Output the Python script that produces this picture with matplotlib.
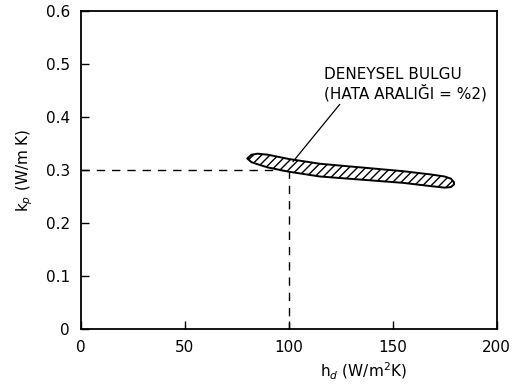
import matplotlib
matplotlib.use("Agg")
import matplotlib.pyplot as plt

# experimental band (hatched region)
band_h = [80, 82, 85, 90, 100, 115, 135, 155, 168, 175, 178, 179.5]
band_upper = [0.322, 0.329, 0.331, 0.329, 0.321, 0.312, 0.305, 0.298, 0.292, 0.288, 0.284, 0.277]
band_lower = [0.322, 0.315, 0.311, 0.305, 0.297, 0.288, 0.282, 0.276, 0.270, 0.267, 0.268, 0.273]

# reading lines
read_h = 100
read_k = 0.30

x_ticks = [0, 50, 100, 150, 200]
y_ticks = [0, 0.1, 0.2, 0.3, 0.4, 0.5, 0.6]
y_ticklabels = ["0", "0.1", "0.2", "0.3", "0.4", "0.5", "0.6"]

plt.rcParams.update({"font.family": "DejaVu Sans", "font.size": 11,
                     "hatch.linewidth": 1.0})

fig = plt.figure(figsize=(5.13, 3.92), dpi=100)
ax = fig.add_axes([0.158, 0.16, 0.81, 0.812])

ax.fill_between(band_h, band_lower, band_upper, facecolor="white",
                edgecolor="black", hatch="////", linewidth=1.4, zorder=3)

ax.plot([0, read_h], [read_k, read_k], color="black", linestyle=(0, (6, 5)), linewidth=1)
ax.plot([read_h, read_h], [read_k, 0], color="black", linestyle=(0, (6, 5)), linewidth=1)

ax.annotate("DENEYSEL BULGU\n(HATA ARALIĞI = %2)", xy=(102, 0.316), xytext=(117, 0.462),
            fontsize=11, ha="left", va="center", linespacing=1.15,
            arrowprops=dict(arrowstyle="-", color="black", linewidth=0.9,
                            shrinkA=0, shrinkB=0, relpos=(0.11, 0.0)))

ax.set_xlim(0, 200)
ax.set_ylim(0, 0.6)
ax.set_xticks(x_ticks)
ax.set_yticks(y_ticks)
ax.set_yticklabels(y_ticklabels)
ax.tick_params(direction="in", length=6, width=1, top=False, right=False, pad=8, labelsize=11)
for s in ax.spines.values():
    s.set_linewidth(1.3)

ax.set_xlabel(r"h$_d$ (W/m$^2$K)", fontsize=11, labelpad=2)
ax.xaxis.set_label_coords(0.68, -0.1)
ax.set_ylabel(r"k$_p$ (W/m K)", fontsize=11, labelpad=8)

fig.savefig("out.png", dpi=100, facecolor="white")
